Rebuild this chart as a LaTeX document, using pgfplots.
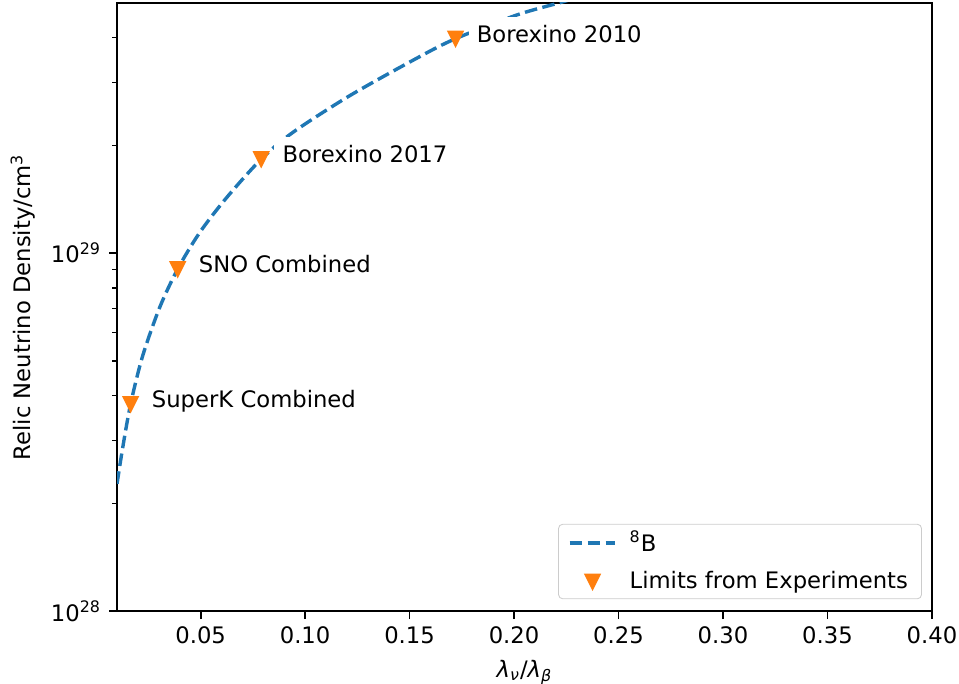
\documentclass[border=0pt]{standalone}
\usepackage{fontspec}
\setmainfont{DejaVu Sans}
\usepackage{pgfplots}
\pgfplotsset{compat=1.18}

\definecolor{mplblue}{HTML}{1F77B4}
\definecolor{mplorange}{HTML}{FF7F0E}

% matplotlib-style downward triangle
\pgfdeclareplotmark{tridown}{%
  \pgfpathmoveto{\pgfqpoint{0pt}{-\pgfplotmarksize}}%
  \pgfpathlineto{\pgfqpoint{-\pgfplotmarksize}{\pgfplotmarksize}}%
  \pgfpathlineto{\pgfqpoint{\pgfplotmarksize}{\pgfplotmarksize}}%
  \pgfpathclose\pgfusepathqfillstroke}

\pgfplotsset{
  lineleg/.style={legend image code/.code={\draw[##1] (0pt,0pt) -- (22pt,0pt);}},
  markleg/.style={legend image code/.code={\draw[##1] plot coordinates {(11pt,0pt)};}},
}
\tikzset{lbl/.style={anchor=base west, fill=white, inner xsep=4pt, inner ysep=4pt, xshift=-4pt, yshift=-1.8pt}}

\begin{document}
\fontsize{10.9}{13}\selectfont
\begin{tikzpicture}
\useasboundingbox (-56.2pt,-34.6pt) rectangle (404.3pt,293.6pt);
\begin{axis}[
  scale only axis,
  width=391.3pt, height=292.2pt,
  ymode=log,
  xmin=0.01, xmax=0.40,
  ymin=1e28, ymax=5e29,
  xtick={0.05,0.10,0.15,0.20,0.25,0.30,0.35,0.40},
  xticklabels={0.05,0.10,0.15,0.20,0.25,0.30,0.35,0.40},
  ytick={1e28,1e29},
  yticklabels={10\textsuperscript{28},10\textsuperscript{29}},
  minor ytick={2e28,3e28,4e28,5e28,6e28,7e28,8e28,9e28,2e29,3e29,4e29},
  xtick pos=bottom, ytick pos=left,
  tick align=outside,
  major tick length=3.8pt, minor tick length=2.2pt,
  every tick/.style={black, line width=0.87pt},
  every minor tick/.style={black, line width=0.65pt},
  axis line style={line width=0.87pt},
  xlabel={\textit{λ}\textsubscript{\textit{ν}}/\textit{λ}\textsubscript{\textit{β}}},
  ylabel={Relic Neutrino Density/cm\textsuperscript{3}},
  legend cell align=left,
  legend style={at={(1,0)}, anchor=south east, xshift=-4.8pt, yshift=5.8pt,
    draw=black!20, rounded corners=2pt, fill=white,
    inner xsep=4.5pt, inner ysep=1.3pt, row sep=4pt, column sep=4pt},
]
\addplot[mplblue, line width=1.64pt, dash pattern=on 6.05pt off 2.6pt, smooth, lineleg]
  coordinates {
  (0.0100,2.27e28) (0.0127,2.86e28) (0.0165,3.79e28) (0.0222,5.15e28)
  (0.0304,7.05e28) (0.0390,9.02e28) (0.0495,1.14e29) (0.0625,1.43e29)
  (0.0790,1.83e29) (0.0940,2.17e29) (0.1213,2.75e29) (0.1534,3.50e29)
  (0.1720,3.97e29) (0.2012,4.62e29) (0.2218,5.00e29) (0.2300,5.17e29)
  };
\addlegendentry{\textsuperscript{8}B}

\node[lbl] at (axis cs:0.182,3.97e29) {Borexino 2010};
\node[lbl] at (axis cs:0.089,1.83e29) {Borexino 2017};
\node[lbl] at (axis cs:0.049,9.02e28) {SNO Combined};
\node[lbl] at (axis cs:0.0265,3.79e28) {SuperK Combined};

\addplot[only marks, mark=tridown, mark size=3.27pt, mplorange, fill=mplorange, line width=1.09pt, markleg]
  coordinates {
  (0.0165,3.79e28)
  (0.0390,9.02e28)
  (0.0790,1.83e29)
  (0.1720,3.97e29)
  };
\addlegendentry{Limits from Experiments}
\end{axis}
\end{tikzpicture}
\end{document}
